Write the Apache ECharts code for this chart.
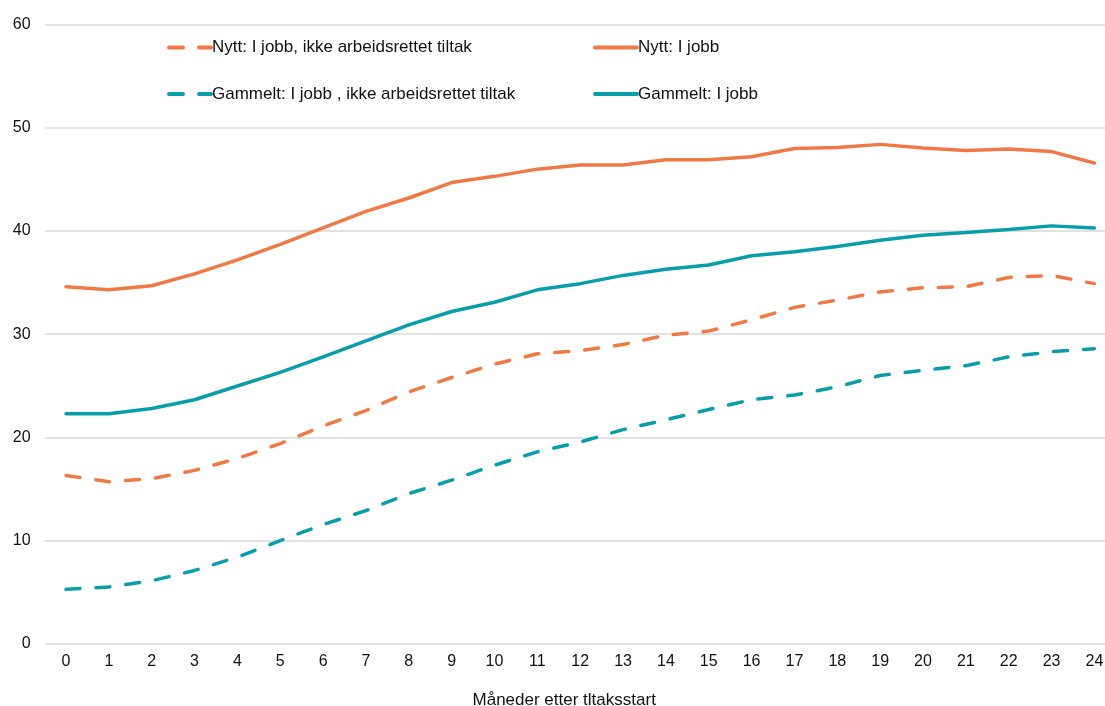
<!DOCTYPE html>
<html>
<head>
<meta charset="utf-8">
<script src="https://cdn.jsdelivr.net/npm/echarts@6/dist/echarts.min.js"></script>
<style>html,body{margin:0;padding:0;background:#fff}#c{width:1105px;height:706px}</style>
</head>
<body>
<div id="c"></div>
<script>
const months = ['0','1','2','3','4','5','6','7','8','9','10','11','12','13','14','15','16','17','18','19','20','21','22','23','24'];
const nyttIkkeTiltak = [16.3,15.7,16.0,16.8,17.95,19.4,21.1,22.6,24.4,25.8,27.1,28.1,28.4,29.0,29.9,30.3,31.4,32.6,33.3,34.1,34.5,34.6,35.5,35.7,34.9];
const nyttIJobb = [34.6,34.3,34.7,35.85,37.2,38.7,40.3,41.9,43.2,44.7,45.3,46.0,46.4,46.4,46.9,46.9,47.2,48.0,48.1,48.4,48.05,47.8,47.95,47.7,46.6];
const gammeltIkkeTiltak = [5.27,5.5,6.1,7.1,8.4,10.0,11.55,12.9,14.55,15.85,17.3,18.6,19.55,20.75,21.7,22.7,23.65,24.1,24.9,26.0,26.5,26.95,27.8,28.3,28.6];
const gammeltIJobb = [22.3,22.3,22.8,23.65,24.98,26.3,27.8,29.35,30.9,32.2,33.1,34.3,34.9,35.7,36.3,36.7,37.6,38.0,38.5,39.1,39.6,39.85,40.15,40.5,40.3];
const names = ['Nytt: I jobb, ikke arbeidsrettet tiltak','Nytt: I jobb','Gammelt: I jobb , ikke arbeidsrettet tiltak','Gammelt: I jobb'];

const ORANGE = '#F07A46';
const TEAL = '#0A9DAA';
const font = 'Liberation Sans, Arial, Helvetica, sans-serif';

const chart = echarts.init(document.getElementById('c'));
function line(name, data, color, dashed) {
  return {
    name, type: 'line', data, symbol: 'none', smooth: false,
    lineStyle: { color, width: 3.5, type: dashed ? [14, 16] : 'solid', cap: 'round' },
    itemStyle: { color },
    emphasis: { disabled: true }
  };
}
function legendItem(name, color, dashed) {
  return { name, itemStyle: { opacity: 0 }, lineStyle: { color, width: 4, type: dashed ? [14, 16] : 'solid', cap: 'round' } };
}
const legendBase = {
  orient: 'vertical', itemGap: 29.6, itemWidth: 42, itemHeight: 20, top: 34,
  textStyle: { fontSize: 17, color: '#111', fontFamily: font, padding: [0, 0, 0, -4] }
};
chart.setOption({
  animation: false,
  textStyle: { fontFamily: font },
  grid: { left: 44.6, top: 24.7, width: 1071.2, height: 619, containLabel: false, outerBoundsMode: 'none' },
  legend: [
    Object.assign({}, legendBase, { left: 162, data: [legendItem(names[0], ORANGE, true), legendItem(names[2], TEAL, true)] }),
    Object.assign({}, legendBase, { left: 588, data: [legendItem(names[1], ORANGE, false), legendItem(names[3], TEAL, false)] })
  ],
  xAxis: {
    type: 'category', data: months, boundaryGap: true,
    axisLine: { show: false }, axisTick: { show: false },
    axisLabel: { fontSize: 16, color: '#111', margin: 10 },
    name: 'Måneder etter tltaksstart', nameLocation: 'middle', nameGap: 48,
    nameTextStyle: { fontSize: 17, color: '#111', padding: [0, 32, 0, 0] }
  },
  yAxis: {
    type: 'value', min: 0, max: 60, interval: 10,
    axisLine: { show: false }, axisTick: { show: false },
    axisLabel: { fontSize: 16, color: '#111', margin: 14 },
    splitLine: { lineStyle: { color: '#d9d9d9', width: 1.5 } }
  },
  series: [
    line(names[0], nyttIkkeTiltak, ORANGE, true),
    line(names[1], nyttIJobb, ORANGE, false),
    line(names[2], gammeltIkkeTiltak, TEAL, true),
    line(names[3], gammeltIJobb, TEAL, false)
  ]
});
</script>
</body>
</html>
